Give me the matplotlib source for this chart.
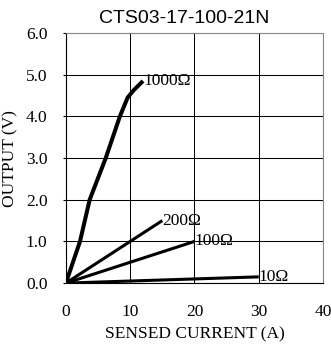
import matplotlib.pyplot as plt
import numpy as np

# data
i_1000 = [0, 2.2, 3.7, 6.2, 8.4, 9.6, 10.5, 12.0]
v_1000 = [0, 1.0, 2.0, 3.0, 4.0, 4.45, 4.62, 4.85]
i_200 = [0, 15]
v_200 = [0, 1.5]
i_100 = [0, 20]
v_100 = [0, 1.0]
i_10 = [0, 30]
v_10 = [0, 0.15]

series = [
    (i_1000, v_1000, "1000\u03a9", 2.9),
    (i_200, v_200, "200\u03a9", 2.2),
    (i_100, v_100, "100\u03a9", 2.2),
    (i_10, v_10, "10\u03a9", 2.2),
]

serif = ['Liberation Serif', 'DejaVu Serif']

fig = plt.figure(figsize=(3.31, 3.44), dpi=100)
ax = fig.add_axes([0.199, 0.177, 0.777, 0.727])

for xs, ys, lab, lw in series:
    ax.plot(xs, ys, color='black', linewidth=lw, solid_capstyle='butt')
    ax.text(xs[-1], ys[-1], lab, fontsize=12.5, family=serif,
            ha='left', va='center')

ax.set_xlim(0, 40)
ax.set_ylim(0, 6)
ax.set_xticks([0, 10, 20, 30, 40])
ax.set_yticks(np.arange(0, 6.1, 1.0))
ax.set_yticklabels([f"{v:.1f}" for v in np.arange(0, 6.1, 1.0)])
ax.grid(True, color='black', linewidth=0.75)
ax.tick_params(axis='x', length=0, pad=15)
ax.tick_params(axis='y', length=2.2, width=0.8, direction='out', pad=11)
for lbl in ax.get_xticklabels() + ax.get_yticklabels():
    lbl.set_family(serif)
    lbl.set_fontsize(12.5)

for side in ['left', 'bottom']:
    ax.spines[side].set_color('black')
for side in ['top', 'right']:
    ax.spines[side].set_color('#888888')

ax.set_xlabel('SENSED CURRENT (A)', family=serif, fontsize=12.5, labelpad=5)
ax.set_ylabel('OUTPUT (V)', family=serif, fontsize=12.5)
ax.yaxis.set_label_coords(-0.185, 0.5)
ax.set_title('CTS03-17-100-21N', family=['Liberation Sans', 'DejaVu Sans'],
             fontsize=14, pad=7, x=0.46)

fig.savefig('out.png', dpi=100)
